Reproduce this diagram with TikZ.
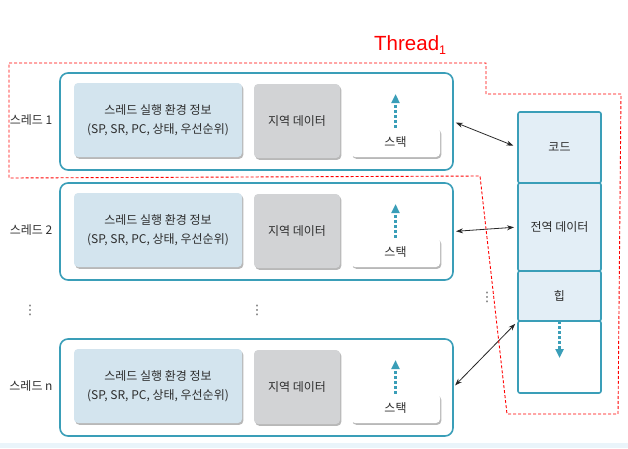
\documentclass[tikz,border=0pt]{standalone}
\usepackage{fontspec}
\setmainfont{Noto Sans CJK KR}
\newfontfamily\arialfont{Liberation Sans}
\newfontfamily\dejavufont{DejaVu Sans}
\usetikzlibrary{arrows.meta,shadows,calc}
\definecolor{tealline}{RGB}{58,158,184}
\definecolor{infofill}{RGB}{211,228,238}
\definecolor{localfill}{RGB}{210,211,213}
\definecolor{memfill}{RGB}{227,238,246}
\definecolor{txtcol}{RGB}{45,45,45}
\definecolor{bandcol}{RGB}{234,244,250}
\definecolor{redcol}{RGB}{255,0,0}
\begin{document}
\begin{tikzpicture}[x=1pt,y=-1pt,
  softshadow/.style={drop shadow={shadow xshift=1.3pt,shadow yshift=-1.8pt,fill=black,opacity=0.28}},
  threadbox/.style={draw=tealline,line width=1.6pt,rounded corners=8pt,fill=white,
    minimum width=393pt,minimum height=97pt,inner sep=0pt,outer sep=0pt},
  infobox/.style={fill=infofill,rounded corners=4pt,minimum width=168pt,minimum height=74pt,
    inner sep=0pt,align=center,text=txtcol,font=\fontsize{12}{18.6}\selectfont,softshadow},
  localbox/.style={fill=localfill,rounded corners=4pt,minimum width=86pt,minimum height=74pt,
    inner sep=0pt,text=txtcol,font=\fontsize{12}{14}\selectfont,softshadow},
  stackbox/.style={fill=white,rounded corners=4pt,minimum width=89pt,minimum height=29pt,
    inner sep=0pt,text=txtcol,font=\fontsize{12}{14}\selectfont,softshadow},
  lbl/.style={text=txtcol,font=\fontsize{12}{14}\selectfont,inner sep=0pt},
  memcell/.style={draw=tealline,line width=1.6pt,rounded corners=2pt,fill=memfill,
    minimum width=83pt,inner sep=0pt,outer sep=0pt,text=txtcol,font=\fontsize{12}{14}\selectfont},
  tealarrow/.style={draw=tealline,line width=2.4pt,dash pattern=on 3pt off 2pt,
    -{Triangle[length=9pt,width=8pt]}},
  dblarrow/.style={draw=black!85,line width=0.8pt,
    {Stealth[length=7pt,width=5pt]}-{Stealth[length=7pt,width=5pt]}},
  redline/.style={draw=redcol,line width=0.9pt,dash pattern=on 3pt off 2pt},
  vdots/.style={text=black!65,font=\dejavufont\fontsize{13}{14}\selectfont,inner sep=0pt}
]
\useasboundingbox (0,0) rectangle (628,448);
\fill[bandcol] (0,443) rectangle (628,448);

% threads
\foreach \i/\T/\lab in {1/73/{스레드 1},2/183/{스레드 2},n/339/{스레드 n}}{
  \node[threadbox] (t\i) at (256.5,\T+48.5) {};
  \node[infobox] (info\i) at (158,\T+47) {스레드 실행 환경 정보\\(SP, SR, PC, 상태, 우선순위)};
  \node[localbox] (loc\i) at (297,\T+48) {지역 데이터};
  \node[stackbox] (s\i) at (395.5,\T+69.5) {스택};
  \coordinate (a\i) at (395.5,\T+21);
  \draw[tealarrow] (s\i.north) -- (a\i);
  \node[lbl] (l\i) at (31,\T+47) {\lab};
}

% memory column
\node[memcell,minimum height=71pt] (code) at (559.5,147.5) {코드};
\node[memcell,minimum height=88pt] (global) at (559.5,227) {전역 데이터};
\node[memcell,minimum height=50pt] (heap) at (559.5,296) {힙};
\node[memcell,minimum height=72pt,fill=white] (empty) at (559.5,357) {};
\coordinate (ha) at (559.5,358);
\draw[tealarrow] (empty.north) -- (ha);

% connectors
\draw[dblarrow,shorten <=3pt,shorten >=5pt] (t1.east) -- (code.west);
\draw[dblarrow,shorten <=3pt,shorten >=4pt] (t2.east) -- (global.west);
\draw[dblarrow,shorten <=3pt,shorten >=4pt] (tn.east) -- (empty.north west);

% dots
\node[vdots] (d1) at (30,310) {⋮};
\node[vdots] (d2) at (257,310) {⋮};
\node[vdots] (d3) at (487,297) {⋮};

% red dashed region
\draw[redline] (9,63) -- (486,63) -- (486,94) -- (621,94) -- (618,414) -- (507,414)
  -- (480,176) -- (9,178) -- cycle;
\node[text=redcol,font=\arialfont\fontsize{20.5}{24}\selectfont,anchor=base west,inner sep=0pt]
  (thr) at (374,50) {Thread\raisebox{-4.5pt}{\fontsize{12.5}{13}\selectfont 1}};
\end{tikzpicture}
\end{document}
